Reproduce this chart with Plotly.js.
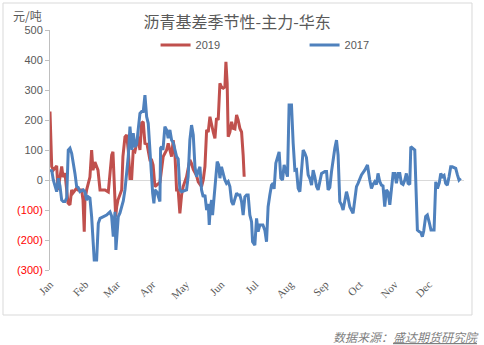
<!DOCTYPE html>
<html>
<head>
<meta charset="utf-8">
<script src="https://cdn.plot.ly/plotly-3.0.1.min.js"></script>
<style>html,body{margin:0;padding:0;background:#fff;}#chart{width:484px;height:345px;}</style>
</head>
<body>
<div id="chart"></div>
<script>
// Day of year (0 = 1 Jan) and basis values (元/吨)
var day2019 = [0,1.5,2.9,5.9,7.0,10.3,11.5,13.2,15.9,17.6,19.1,20.3,23.5,24.7,27.9,29.1,30.2,30.8,32.3,35.2,36.7,37.9,39.6,42.3,44.1,48.5,51.4,54.4,55.5,57.9,58.8,59.9,63.2,64.3,66.1,67.6,69.0,70.5,72.0,73.4,74.9,77.5,79.3,80.8,82.2,83.7,85.5,88.1,89.6,90.9,92.5,94.0,95.4,96.9,99.8,101.3,102.8,104.2,105.7,107.2,108.6,110.1,111.6,113.0,114.5,116.0,117.4,120.4,123.3,124.8,126.3,127.8,129.2,130.7,132.2,133.6,135.1,136.6,138.1,139.5,141.0,142.5,143.9,145.4,146.8,148.3,149.8,151.2,152.7,154.2,155.1,156.2,157.1,158.6,160.1,161.5,163.0,164.5,165.9,167.4,168.9,170.3,171.2];
var val2019 = [228,45,33,47,-33,45,10,23,-77,-83,-33,-43,-27,-33,-33,-67,-172,-67,-33,10,100,33,60,33,-33,-33,-40,83,94,-122,-89,-67,-33,78,144,150,100,5,5,100,95,144,100,190,194,122,120,67,67,50,-22,-17,-11,-8,78,89,100,122,100,78,133,90,-33,-33,-111,-50,-22,11,67,55,35,22,15,-6,-17,-22,0,45,167,160,211,178,160,139,206,200,322,310,306,310,394,322,144,160,194,172,170,217,200,172,160,83,11];

var day2017 = [0,1.5,2.9,4.4,5.9,7.3,8.8,10.3,11.7,13.2,14.7,16.1,17.6,19.1,20.5,22.0,23.5,24.9,26.4,27.9,29.3,30.8,32.3,33.7,35.2,36.7,38.1,39.0,41.1,42.6,44.1,47.0,49.9,52.9,54.3,55.8,57.3,58.1,59.5,60.2,61.7,63.2,64.6,66.1,67.6,69.0,70.5,71.4,72.2,73.4,74.9,76.4,79.3,80.8,82.2,83.7,85.2,86.6,88.7,90.5,91.6,92.5,94.3,96.9,97.5,98.4,99.6,101.3,102.8,104.2,105.7,107.2,108.6,110.1,111.6,113.0,114.5,116.0,118.0,120.4,121.8,123.3,124.8,126.3,127.8,129.2,130.7,132.2,133.6,135.1,136.6,138.1,139.5,140.4,141.4,142.5,143.3,144.8,146.3,147.4,148.7,149.8,151.2,152.7,154.2,155.6,157.1,158.6,160.1,161.5,163.0,164.5,165.9,167.4,168.9,170.3,171.8,173.3,174.7,176.2,177.7,178.6,180.6,182.1,183.5,185.0,187.7,189.4,190.9,192.3,193.8,195.3,196.7,197.6,199.1,200.6,202.0,203.5,205.0,206.4,207.9,209.4,210.8,212.9,214.4,215.9,217.3,218.8,220.3,221.7,223.2,224.7,226.1,227.6,229.1,230.6,232.0,233.5,235.0,236.4,237.9,239.4,242.3,243.8,245.2,246.7,248.2,249.6,251.1,252.6,254.0,255.5,257.0,258.4,259.9,261.4,262.8,264.3,267.2,268.7,270.2,271.6,274.6,277.5,279.9,281.9,283.4,284.8,286.3,287.8,289.2,290.7,292.2,293.6,295.1,296.6,298.0,299.6,301.0,302.5,304.0,305.4,306.9,308.4,309.8,311.3,312.8,314.2,315.7,317.2,318.1,320.1,321.6,322.4,323.9,325.4,326.9,328.3,329.5,331.2,332.7,334.3,335.9,337.2,338.6,340.1,341.6,343.2,344.5,346.0,347.4,348.8,350.3,351.8,353.3,354.7,356.1,357.7,359.2,360.6,362.1];
var val2017 = [28,33,0,-22,-39,6,-20,-67,-72,-72,-60,100,106,89,60,22,-22,-25,-39,-35,-33,-40,-67,-56,-60,-122,-222,-267,-267,-144,-128,-122,-117,-106,-120,-189,-106,-233,-140,-122,-110,-89,-70,-33,33,78,178,111,100,156,110,120,222,228,228,283,211,189,44,-44,-78,-33,-40,-72,106,111,100,178,167,139,167,133,125,100,78,70,-33,-39,-35,-33,11,133,183,150,44,11,30,44,-33,-56,-50,-100,-80,-150,-90,-67,-117,-40,22,61,50,6,44,20,0,-11,-5,-22,-72,-83,-60,-44,-50,-50,-72,-117,-56,-50,-50,-117,-139,-206,-217,-128,-172,-150,-150,-167,-206,-89,-50,-17,-11,-30,56,72,94,6,0,50,28,11,250,250,122,33,35,-28,-39,44,100,89,75,17,5,-17,33,10,-22,-33,0,22,28,28,-33,-25,28,72,106,133,83,-72,-83,-100,-70,-39,-60,-89,-111,-60,-22,-11,17,33,50,0,-28,-15,-6,-15,22,-5,-17,-20,-89,-33,-40,-83,-22,22,22,-11,22,22,-11,-15,0,22,-11,-15,111,106,100,6,-167,-172,-175,-189,-170,-122,-117,-140,-167,-167,-167,-6,-28,-10,22,11,15,-11,-17,11,44,44,42,39,17,0,6];

var monthTickDays = [0,31,59,90,120,151,181,212,243,273,304,334];
var monthLabels = ['Jan','Feb','Mar','Apr','May','Jun','Jul','Aug','Sep','Oct','Nov','Dec'];
var yTickVals = [500,400,300,200,100,0,-100,-200,-300];
var yTickLabels = yTickVals.map(function(v){
  return v < 0 ? '<span style="color:#FF0000">(' + Math.abs(v) + ')</span>' : String(v);
});

var traces = [
  {x: day2019, y: val2019, name: '2019', type: 'scatter', mode: 'lines',
   line: {color: '#C0504D', width: 3}},
  {x: day2017, y: val2017, name: '2017', type: 'scatter', mode: 'lines',
   line: {color: '#4F81BD', width: 3}}
];

var layout = {
  width: 484, height: 345,
  margin: {l: 50, r: 20, t: 30, b: 75},
  paper_bgcolor: '#FFFFFF', plot_bgcolor: '#FFFFFF',
  font: {family: 'Liberation Sans, Arial, sans-serif', color: '#595959', size: 11},
  title: {text: '沥青基差季节性-主力-华东', font: {family: 'Noto Sans CJK SC, sans-serif', size: 16, color: '#595959'},
          xref: 'container', x: 0.49, xanchor: 'center', yref: 'container', y: 0.936, yanchor: 'middle'},
  showlegend: true,
  legend: {orientation: 'h', x: 0.255, xanchor: 'left', y: 0.9375, yanchor: 'middle',
           font: {family: 'Liberation Sans, Arial, sans-serif', size: 11, color: '#595959'},
           entrywidth: 104, entrywidthmode: 'pixels', bgcolor: 'rgba(0,0,0,0)', traceorder: 'normal'},
  xaxis: {range: [0, 365], tickmode: 'array', tickvals: monthTickDays, ticktext: monthLabels,
          tickangle: -45, ticks: '', showgrid: false, zeroline: false, showline: false, ticklabelstandoff: 5,
          tickfont: {family: 'Liberation Serif, Times New Roman, serif', size: 11, color: '#595959'}},
  yaxis: {range: [-300, 500], tickmode: 'array', tickvals: yTickVals, ticktext: yTickLabels,
          ticks: 'outside', ticklen: 4, tickcolor: '#BFBFBF', showline: true, linecolor: '#BFBFBF', linewidth: 1,
          showgrid: false, zeroline: true, zerolinecolor: '#D9D9D9', zerolinewidth: 1,
          tickfont: {family: 'Liberation Sans, Arial, sans-serif', size: 11, color: '#595959'}},
  shapes: [{type: 'rect', xref: 'paper', yref: 'paper', x0: -0.1135, x1: 1.0193, y0: -0.1875, y1: 1.1125,
            line: {color: '#D9D9D9', width: 1}, fillcolor: 'rgba(0,0,0,0)', layer: 'below'}],
  annotations: [
    {text: '元/吨', xref: 'paper', yref: 'paper', x: -0.055, y: 1.062, xanchor: 'center', yanchor: 'middle',
     showarrow: false, font: {family: 'Noto Sans CJK SC, sans-serif', size: 12, color: '#595959'}},
    {text: '<i>数据来源：<span style="text-decoration:underline">盛达期货研究院</span></i>', xref: 'paper', yref: 'paper',
     x: 1.042, y: -0.275, xanchor: 'right', yanchor: 'middle', showarrow: false,
     font: {family: 'Noto Sans CJK SC, sans-serif', size: 12, color: '#7F7F7F'}}
  ]
};

Plotly.newPlot('chart', traces, layout, {staticPlot: true, displayModeBar: false});
</script>
</body>
</html>
